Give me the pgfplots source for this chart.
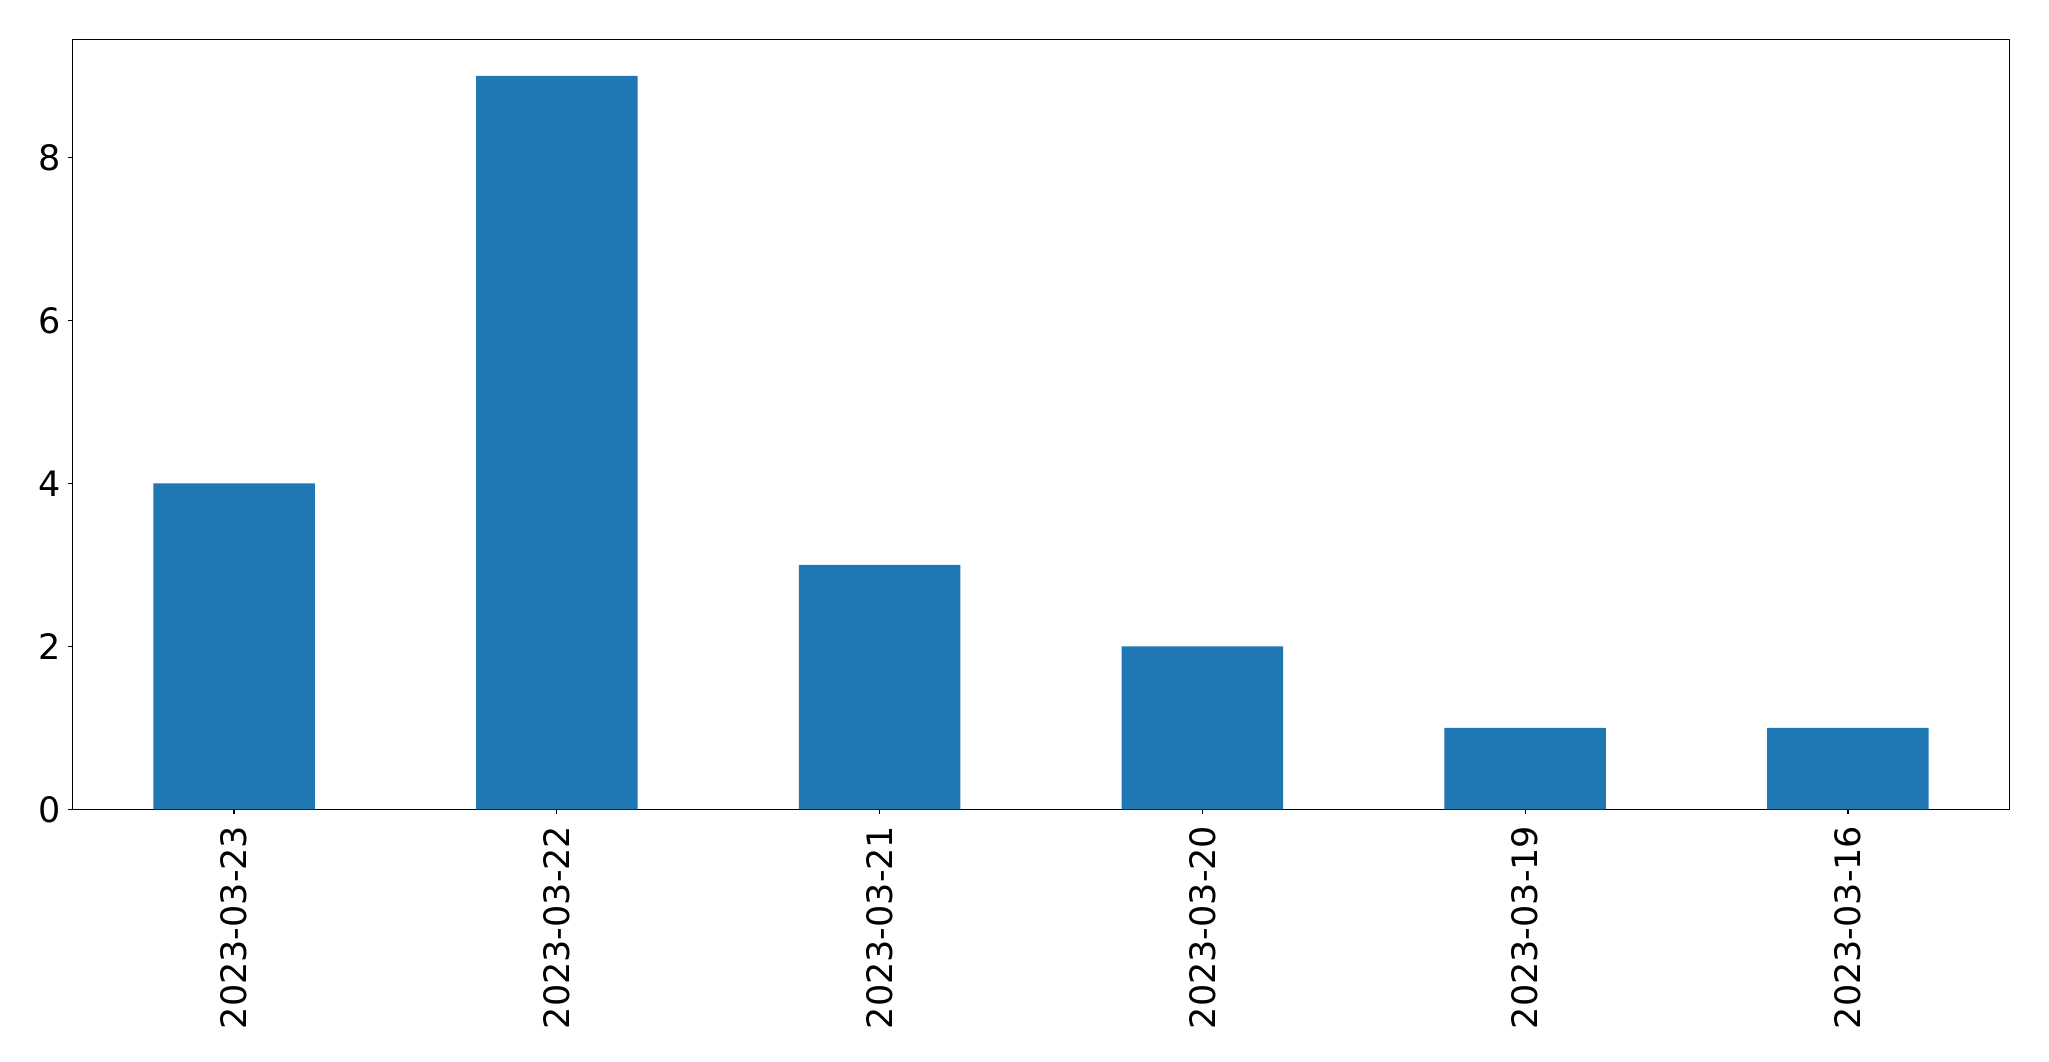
\documentclass[border=0pt]{standalone}
\usepackage{pgfplots}
\pgfplotsset{compat=1.18}
\usepackage{fontspec}
\setmainfont{DejaVu Sans}
\definecolor{mplblue}{HTML}{1F77B4}
\begin{document}
\begin{tikzpicture}
\begin{axis}[
  scale only axis,
  width=968.3pt, height=385pt,
  xmin=-0.5, xmax=5.5, ymin=0, ymax=9.45,
  axis line style={line width=0.6pt},
  tick style={line width=0.6pt, black},
  tick align=outside,
  major tick length=2.5pt,
  xtick={0,1,2,3,4,5},
  xticklabels={2023-03-23,2023-03-22,2023-03-21,2023-03-20,2023-03-19,2023-03-16},
  ytick={0,2,4,6,8},
  xtick pos=bottom, ytick pos=left,
  /pgf/number format/assume math mode=true,
  ticklabel style={font=\fontsize{17.5}{20}\selectfont},
  xticklabel style={rotate=90, anchor=east, inner sep=0pt, xshift=-5.5pt},
  yticklabel style={anchor=east, inner sep=0pt, xshift=-3.5pt},
]
\addplot[ybar, bar width=0.5, bar shift=0pt, fill=mplblue, draw=none] coordinates {
  (0,4) (1,9) (2,3) (3,2) (4,1) (5,1)
};
\end{axis}
\useasboundingbox ([shift={(-36.35pt,-125.85pt)}]current axis.south west) rectangle ([shift={(19.85pt,19.65pt)}]current axis.north east);
\end{tikzpicture}
\end{document}
